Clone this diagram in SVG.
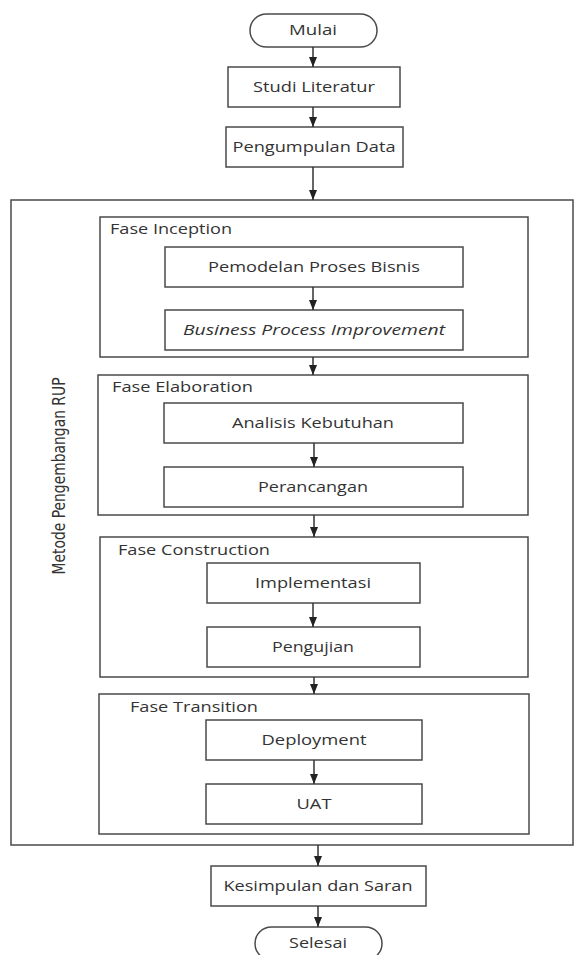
<svg xmlns="http://www.w3.org/2000/svg" width="574" height="955" viewBox="0 0 574 955">
<style>
.box{fill:#fff;stroke:#4a4a4a;stroke-width:1.5}
.t{font-family:"Open Sans","Liberation Sans",sans-serif;font-size:14px;fill:#333;text-anchor:middle}
.lbl{font-family:"Open Sans","Liberation Sans",sans-serif;font-size:14px;fill:#333}
.c{stroke:#333;stroke-width:1.5;fill:none;marker-end:url(#ah)}
</style>
<defs>
<marker id="ah" markerUnits="userSpaceOnUse" markerWidth="10" markerHeight="8" refX="10" refY="4" orient="auto">
<path d="M0,0 L10,4 L0,8 Z" fill="#222"/>
</marker>
</defs>
<rect width="574" height="955" fill="#fff"/>
<g id="outer">
<rect class="box" x="11" y="200" width="562" height="645"/>
<text font-family="'DejaVu Sans Condensed','Liberation Sans',sans-serif" font-size="18" fill="#333" text-anchor="middle" transform="translate(65,476) rotate(-90)" textLength="197" lengthAdjust="spacingAndGlyphs">Metode Pengembangan RUP</text>
</g>
<g id="mulai"><rect class="box" x="250" y="14" width="127" height="33" rx="16.5"/><text class="t" x="313" y="35" textLength="48" lengthAdjust="spacingAndGlyphs">Mulai</text></g>
<g id="studi"><rect class="box" x="228" y="67" width="172" height="40"/><text class="t" x="314" y="92" textLength="122" lengthAdjust="spacingAndGlyphs">Studi Literatur</text></g>
<g id="pengumpulan"><rect class="box" x="226" y="127" width="177" height="40"/><text class="t" x="314" y="152" textLength="163" lengthAdjust="spacingAndGlyphs">Pengumpulan Data</text></g>
<g id="inception">
<rect class="box" x="100" y="217" width="428" height="140"/>
<text class="lbl" x="110" y="234" textLength="122" lengthAdjust="spacingAndGlyphs">Fase Inception</text>
</g>
<g id="pemodelan"><rect class="box" x="165" y="247" width="298" height="40"/><text class="t" x="314" y="272" textLength="212" lengthAdjust="spacingAndGlyphs">Pemodelan Proses Bisnis</text></g>
<g id="bpi"><rect class="box" x="165" y="310" width="298" height="40"/><text class="t" x="314" y="335" font-style="italic" textLength="262" lengthAdjust="spacingAndGlyphs">Business Process Improvement</text></g>
<g id="elaboration">
<rect class="box" x="98" y="375" width="430" height="140"/>
<text class="lbl" x="112" y="392" textLength="141" lengthAdjust="spacingAndGlyphs">Fase Elaboration</text>
</g>
<g id="analisis"><rect class="box" x="164" y="403" width="299" height="40"/><text class="t" x="313" y="428" textLength="162" lengthAdjust="spacingAndGlyphs">Analisis Kebutuhan</text></g>
<g id="perancangan"><rect class="box" x="164" y="467" width="299" height="40"/><text class="t" x="313" y="492" textLength="110" lengthAdjust="spacingAndGlyphs">Perancangan</text></g>
<g id="construction">
<rect class="box" x="100" y="537" width="428" height="140"/>
<text class="lbl" x="118" y="555" textLength="152" lengthAdjust="spacingAndGlyphs">Fase Construction</text>
</g>
<g id="implementasi"><rect class="box" x="207" y="563" width="213" height="40"/><text class="t" x="313" y="588" textLength="116" lengthAdjust="spacingAndGlyphs">Implementasi</text></g>
<g id="pengujian"><rect class="box" x="207" y="627" width="213" height="40"/><text class="t" x="313" y="652" textLength="82" lengthAdjust="spacingAndGlyphs">Pengujian</text></g>
<g id="transition">
<rect class="box" x="99" y="694" width="430" height="140"/>
<text class="lbl" x="130" y="712" textLength="128" lengthAdjust="spacingAndGlyphs">Fase Transition</text>
</g>
<g id="deployment"><rect class="box" x="206" y="720" width="216" height="40"/><text class="t" x="314" y="745" textLength="105" lengthAdjust="spacingAndGlyphs">Deployment</text></g>
<g id="uat"><rect class="box" x="206" y="784" width="216" height="40"/><text class="t" x="314" y="809" textLength="35" lengthAdjust="spacingAndGlyphs">UAT</text></g>
<g id="kesimpulan"><rect class="box" x="211" y="866" width="215" height="40"/><text class="t" x="318" y="891" textLength="189" lengthAdjust="spacingAndGlyphs">Kesimpulan dan Saran</text></g>
<g id="selesai"><rect class="box" x="255" y="927" width="127" height="33" rx="16.5"/><text class="t" x="318" y="948" textLength="58" lengthAdjust="spacingAndGlyphs">Selesai</text></g>
<g id="connectors">
<line class="c" x1="313" y1="47" x2="313" y2="67"/>
<line class="c" x1="313" y1="107" x2="313" y2="127"/>
<line class="c" x1="313" y1="167" x2="313" y2="200"/>
<line class="c" x1="313" y1="287" x2="313" y2="310"/>
<line class="c" x1="313" y1="357" x2="313" y2="375"/>
<line class="c" x1="314" y1="443" x2="314" y2="467"/>
<line class="c" x1="314" y1="515" x2="314" y2="537"/>
<line class="c" x1="313" y1="603" x2="313" y2="627"/>
<line class="c" x1="314" y1="677" x2="314" y2="694"/>
<line class="c" x1="314" y1="760" x2="314" y2="784"/>
<line class="c" x1="318" y1="845" x2="318" y2="866"/>
<line class="c" x1="318" y1="906" x2="318" y2="927"/>
</g>
</svg>
